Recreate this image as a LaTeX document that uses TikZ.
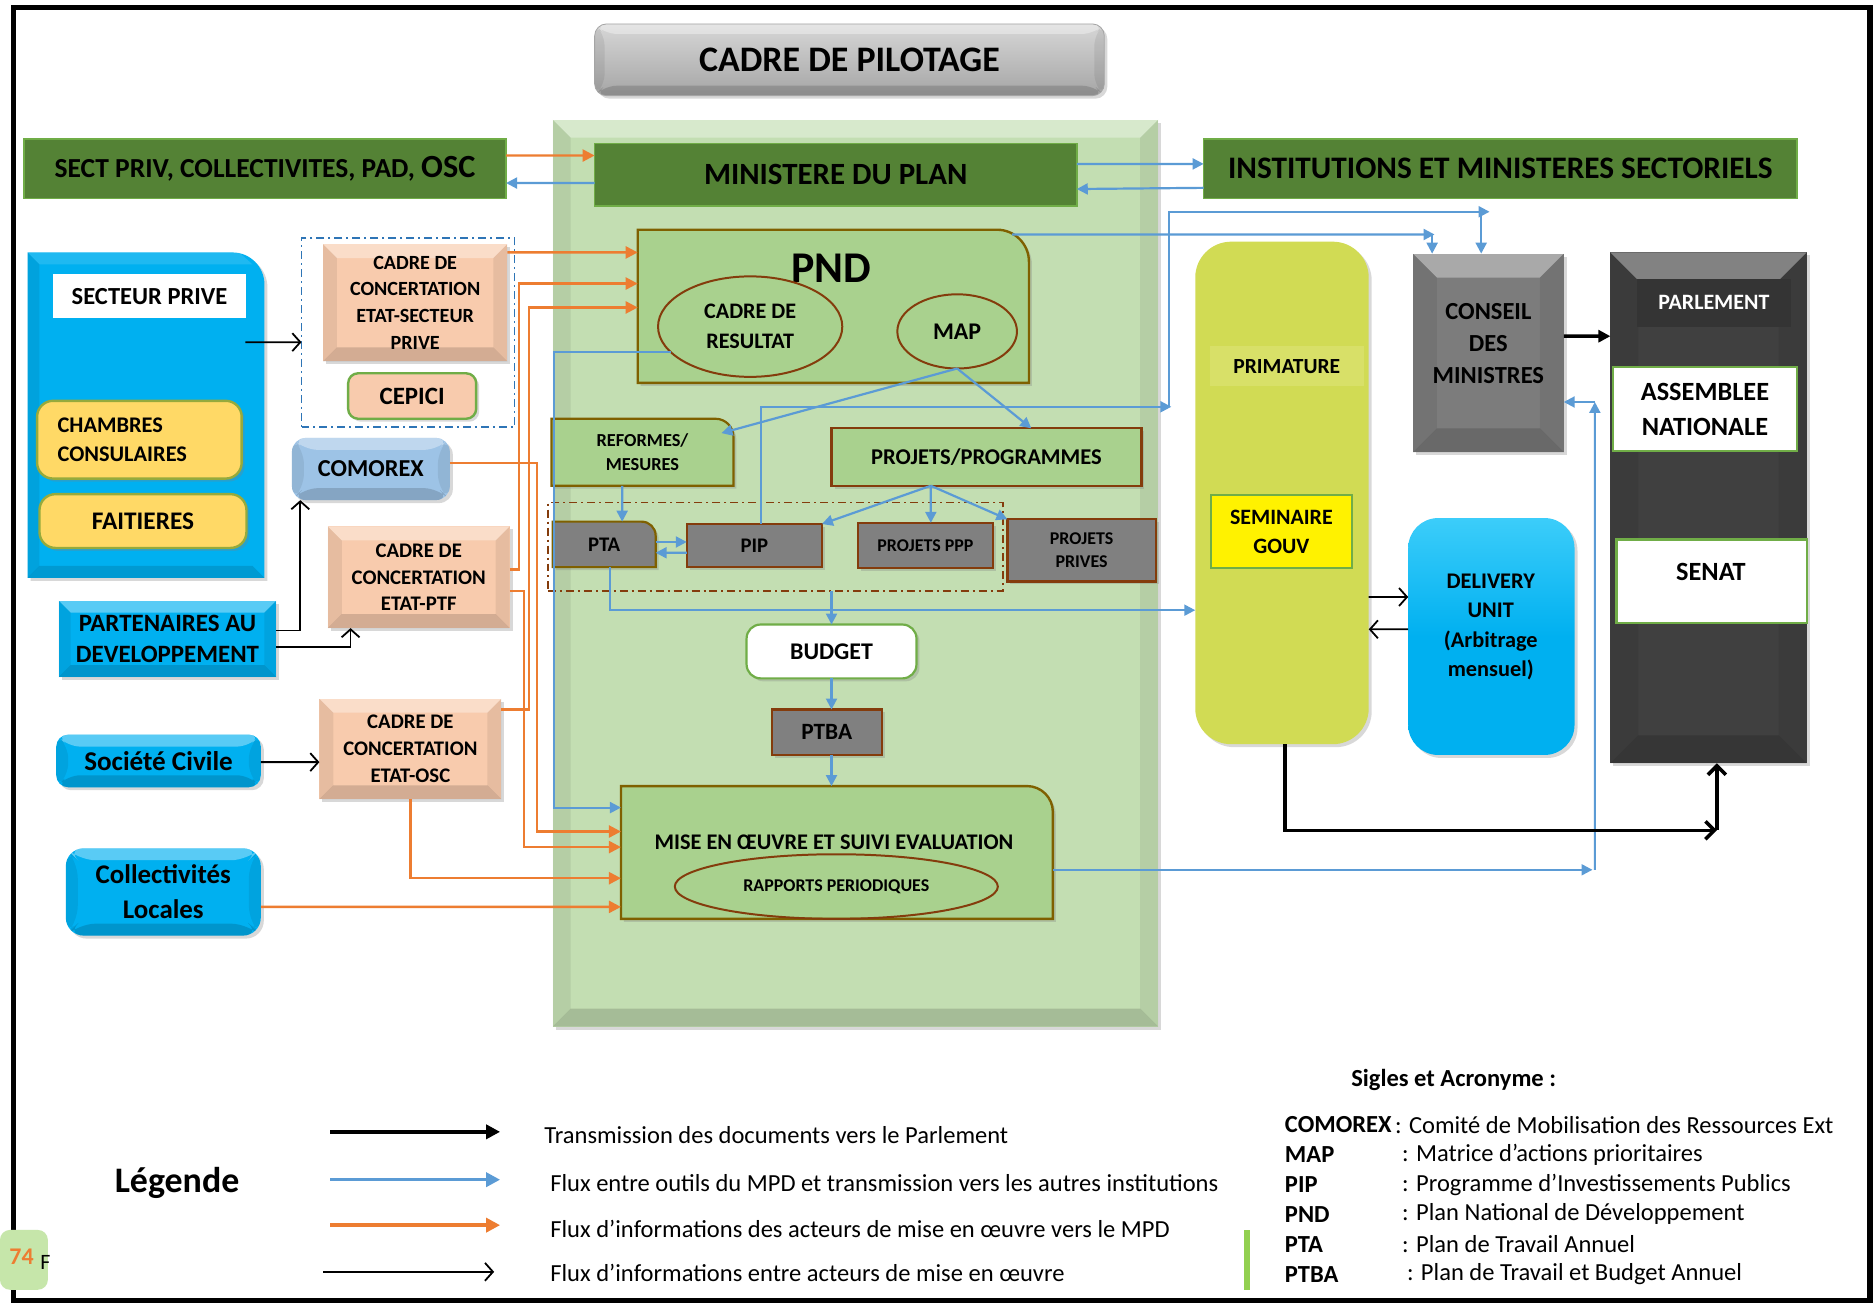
\documentclass[tikz,border=0pt]{standalone}
\usepackage{fontspec}
\setmainfont{Carlito}
\usetikzlibrary{arrows.meta,shapes.geometric,shadows}
\definecolor{dgreen}{RGB}{84,130,53}
\definecolor{grnb}{RGB}{112,173,71}
\definecolor{lgreen}{RGB}{169,209,142}
\definecolor{panel}{RGB}{195,222,178}
\definecolor{olive}{RGB}{127,96,0}
\definecolor{brownb}{RGB}{132,60,12}
\definecolor{oline}{RGB}{237,125,49}
\definecolor{blueL}{RGB}{91,155,213}
\definecolor{dblue}{RGB}{46,117,182}
\definecolor{peach}{RGB}{248,203,173}
\definecolor{cyanb}{RGB}{0,176,240}
\definecolor{cyanT}{RGB}{60,205,250}
\definecolor{yel}{RGB}{255,217,102}
\definecolor{yelB}{RGB}{150,170,60}
\definecolor{primc}{RGB}{209,219,84}
\definecolor{primL}{RGB}{216,224,104}
\definecolor{dgray}{RGB}{64,64,64}
\definecolor{dgrayD}{RGB}{52,52,52}
\definecolor{mgray}{RGB}{128,128,128}
\definecolor{cgray}{RGB}{124,124,124}
\definecolor{lblue}{RGB}{157,195,230}
\definecolor{limec}{RGB}{146,208,80}
\definecolor{pilT}{RGB}{215,215,215}
\definecolor{pilB}{RGB}{165,165,165}
\definecolor{pgGreen}{RGB}{198,230,170}
\newcommand\myfs[2]{\fontsize{#1}{#2}\selectfont}
\tikzset{
  every node/.style={inner sep=0pt,outer sep=0pt,align=center,font=\bfseries},
  bx/.style args={#1/#2/#3/#4}{at={({(#1+#3)/2},{(#2+#4)/2})},
     minimum width={(#3-#1)*0.6pt}, minimum height={(#4-#2)*0.6pt}},
  bev/.style={path picture={
    \path (path picture bounding box.north west) coordinate (bvA)
          (path picture bounding box.north east) coordinate (bvB)
          (path picture bounding box.south east) coordinate (bvC)
          (path picture bounding box.south west) coordinate (bvD);
    \fill[white,opacity=0.35] (bvA) -- (bvB) -- ([shift={(-#1,-#1)}]bvB) -- ([shift={(#1,-#1)}]bvA) -- cycle;
    \fill[black,opacity=0.15] (bvD) -- (bvC) -- ([shift={(-#1,#1)}]bvC) -- ([shift={(#1,#1)}]bvD) -- cycle;
    \fill[black,opacity=0.07] (bvA) -- (bvD) -- ([shift={(#1,#1)}]bvD) -- ([shift={(#1,-#1)}]bvA) -- cycle;
    \fill[black,opacity=0.07] (bvB) -- (bvC) -- ([shift={(-#1,#1)}]bvC) -- ([shift={(-#1,-#1)}]bvB) -- cycle;
  }},
  bev/.default=6pt,
  shd/.style={drop shadow={shadow xshift=1.5pt,shadow yshift=-1.5pt,opacity=0.3}},
  peachbox/.style={fill=peach,bev=7pt,shd},
  cyanbox/.style={fill=cyanb,bev=6pt,shd},
  graybox/.style={fill=mgray,draw=brownb,line width=1.1pt,shd},
  wbox/.style={fill=white,draw=grnb,line width=1.1pt},
  ell/.style={ellipse,draw=brownb,line width=1pt},
  dashdot/.style={line width=0.9pt,dash pattern=on 4pt off 2pt on 1pt off 2pt},
  oarr/.style={draw=oline,line width=1.2pt,-{Triangle[length=6pt,width=6pt]}},
  barr/.style={draw=blueL,line width=1.1pt,-{Triangle[length=5.5pt,width=5.5pt]}},
  karr/.style={draw=black,line width=1.8pt,-{Triangle[length=6pt,width=6pt]}},
  kbarb/.style={draw=black,line width=1.8pt,-{Straight Barb[length=4.5pt,width=9pt]}},
  kthin/.style={draw=black,line width=0.9pt,-{Straight Barb[length=4pt,width=9pt]}},
  legtxt/.style={anchor=west,font=\mdseries\myfs{12.3}{14}},
}
\begin{document}
\begin{tikzpicture}[x=0.6pt,y=-0.6pt]
\useasboundingbox (0,0) rectangle (1568,1090);
\fill[white] (0,0) rectangle (1568,1090);

% ---- MPD panel
\node[bx=462/100/968/858, fill=panel, bev=9pt, shd] (mpd) {};

% ---- top boxes
\node[bx=497/20/923/80, rounded corners=6pt, top color=pilT, bottom color=pilB, draw=pilB, bev=5pt, shd, font=\bfseries\myfs{18}{20}] (pil) {CADRE DE PILOTAGE};
\node[bx=497/120/900/172, fill=dgreen, draw=grnb, line width=0.8pt, font=\bfseries\myfs{15.5}{18}] (min) {MINISTERE DU PLAN};
\node[bx=20/116/423/166, fill=dgreen, draw=grnb, line width=0.8pt] (sect) {{\myfs{13.8}{16}SECT PRIV, COLLECTIVITES, PAD, }{\myfs{16.2}{18}OSC}};
\node[bx=1006/116/1502/166, fill=dgreen, draw=grnb, line width=0.8pt, font=\bfseries\myfs{15.7}{18}] (inst) {INSTITUTIONS ET MINISTERES SECTORIELS};

% ---- Secteur prive
\path[fill=cyanb, shd] (23,483) -- (23,211) [rounded corners=16pt] -- (221,211) [sharp corners] -- (221,483) -- cycle;
\fill[white,opacity=0.12] (23,211) -- (200,211) -- (211,221) -- (33,221) -- cycle;
\fill[black,opacity=0.08] (23,211) -- (33,221) -- (33,473) -- (23,483) -- cycle;
\fill[black,opacity=0.12] (23,483) -- (33,473) -- (211,473) -- (221,483) -- cycle;
\node[bx=23/211/221/483] (sp) {};
\node[bx=44/229/206/266, fill=white, font=\bfseries\myfs{12.3}{14}] (spl) {SECTEUR PRIVE};
\node[bx=31/335/202/400, fill=yel, draw=yelB, line width=1.2pt, rounded corners=8pt, shd, text width=82pt, align=left, font=\bfseries\myfs{11.2}{14.7}] (cham) {CHAMBRES\\CONSULAIRES};
\node[bx=33/413/206/458, fill=yel, draw=yelB, line width=1.2pt, rounded corners=8pt, shd, font=\bfseries\myfs{12.7}{14}] (fait) {FAITIERES};

% ---- left column
\node[bx=252/199/430/357, draw=dblue, dashdot] (dbox) {};
\node[bx=270/204/424/302, peachbox, font=\bfseries\myfs{10.1}{13.4}] (cSP) {CADRE DE\\CONCERTATION\\ETAT-SECTEUR\\PRIVE};
\node[bx=291/312/398/350, fill=peach, draw=grnb, line width=1.2pt, rounded corners=5pt, shd, font=\bfseries\myfs{12.5}{14}] (cep) {CEPICI};
\node[bx=244/366/376/418, fill=lblue, bev=6pt, rounded corners=7pt, shd, font=\bfseries\myfs{12.2}{14}] (como) {COMOREX};
\node[bx=49/502/231/566, cyanbox, font=\bfseries\myfs{12.5}{15.9}] (part) {PARTENAIRES AU\\DEVELOPPEMENT};
\node[bx=274/440/426/525, peachbox, font=\bfseries\myfs{10.4}{13.4}] (cPTF) {CADRE DE\\CONCERTATION\\ETAT-PTF};
\node[bx=47/614/218/658, cyanbox, rounded corners=6pt, font=\bfseries\myfs{13.6}{15}] (soc) {Société Civile};
\node[bx=267/584/419/668, peachbox, font=\bfseries\myfs{10.4}{13.4}] (cOSC) {CADRE DE\\CONCERTATION\\ETAT-OSC};
\node[bx=55/709/218/782, cyanbox, rounded corners=9pt, font=\bfseries\myfs{13.5}{17.5}] (coll) {Collectivités\\Locales};

% ---- PND
\path[fill=lgreen, draw=olive, line width=1.2pt, shd] (533,320) -- (533,192) [rounded corners=16pt] -- (860,192) [sharp corners] -- (860,320) -- cycle;
\node[bx=533/192/860/320] (pnd) {};
\node[font=\bfseries\myfs{22}{24}] (pndl) at (695,224) {PND};
\node[ell, minimum width=92.4pt, minimum height=50.4pt, font=\bfseries\myfs{11.1}{15}] (cr) at (627,273) {CADRE DE\\RESULTAT};
\node[ell, minimum width=60pt, minimum height=37.2pt, font=\bfseries\myfs{12}{14}] (map) at (800,277) {MAP};

\path[fill=lgreen, draw=olive, line width=1.1pt, shd] (461,406) -- (461,350) [rounded corners=9pt] -- (613,350) [sharp corners] -- (613,406) -- cycle;
\node[bx=461/350/613/406, font=\bfseries\myfs{9.2}{12}] (ref) {REFORMES/\\MESURES};
\node[bx=695/358/954/406, fill=lgreen, draw=brownb, line width=1.1pt, shd, font=\bfseries\myfs{11.3}{13}] (pp) {PROJETS/PROGRAMMES};

\node[bx=458/420/838/494, draw=brownb, dashdot] (pbox) {};
\path[fill=mgray, draw=olive, line width=1.1pt, shd] (462,474) -- (462,436) [rounded corners=7pt] -- (548,436) [sharp corners] -- (548,474) -- cycle;
\node[bx=462/436/548/474, font=\bfseries\myfs{10.4}{12}] (pta) {PTA};
\node[bx=574/438/687/474, graybox, font=\bfseries\myfs{10.4}{12}] (pip) {PIP};
\node[bx=717/437/830/475, graybox, font=\bfseries\myfs{9}{11}] (ppp) {PROJETS PPP};
\node[bx=842/434/966/486, graybox, font=\bfseries\myfs{9}{11.7}] (prv) {PROJETS\\PRIVES};

\node[bx=624/522/766/567, wbox, rounded corners=7pt, shd, font=\bfseries\myfs{12}{14}] (bud) {BUDGET};
\node[bx=645/593/737/631, graybox, font=\bfseries\myfs{11.7}{13}] (ptba) {PTBA};

\path[fill=lgreen, draw=olive, line width=1.2pt, shd] (519,768) -- (519,657) [rounded corners=13pt] -- (880,657) [sharp corners] -- (880,768) -- cycle;
\node[bx=519/657/880/768] (mise) {};
\node[font=\bfseries\myfs{11.2}{13}] (misel) at (697,704) {MISE EN ŒUVRE ET SUIVI EVALUATION};
\node[ell, minimum width=162pt, minimum height=32.4pt, font=\bfseries\myfs{9}{11}] (rap) at (699,741) {RAPPORTS PERIODIQUES};

% ---- right side
\node[bx=999/202/1144/622, fill=primc, rounded corners=18pt, shd] (prim) {};
\node[bx=1011/289/1140/323, fill=primL, font=\bfseries\myfs{10.8}{13}] (priml) {PRIMATURE};
\node[bx=1012/414/1130/475, fill=yellow, draw=grnb, line width=1.1pt, font=\bfseries\myfs{11}{14.4}] (sem) {SEMINAIRE\\GOUV};

\node[bx=1181/212/1307/378, fill=cgray, bev=12pt, shd] (cons) {};
\node[font=\bfseries\myfs{12.3}{15.9}] (consl) at (1244,287) {CONSEIL\\DES\\MINISTRES};

\node[bx=1346/211/1510/638, fill=dgray, bev=14pt, shd] (parl) {};
\node[bx=1368/233/1497/273, fill=dgrayD, text=white, font=\bfseries\myfs{11}{13}] (parll) {PARLEMENT};
\node[bx=1348/307/1502/377, wbox, font=\bfseries\myfs{13.2}{17.5}] (an) {ASSEMBLEE\\NATIONALE};
\node[bx=1351/451/1510/521, wbox] (sen) {};
\node[font=\bfseries\myfs{13.2}{15}] (senl) at (1430,478) {SENAT};

\node[bx=1177/433/1316/631, top color=cyanT, bottom color=cyanb, middle color=cyanb, rounded corners=15pt, shd] (du) {};
\node[font=\bfseries\myfs{11.2}{14.8}] (dul) at (1246,524) {DELIVERY\\UNIT\\(Arbitrage\\mensuel)};

% ---- orange connectors
\draw[oarr] ([yshift=6.6pt]sect.east) -- ([yshift=9.6pt]min.west);
\draw[oarr] ([yshift=25.2pt]cSP.east) -- ([yshift=27pt]pnd.west);
\draw[oarr] ([yshift=3.9pt]cPTF.east) -- ++(4.8pt,0) |- ([yshift=11.4pt]pnd.west);
\draw[oarr] ([yshift=19.8pt]cOSC.east) -- ++(13.8pt,0) |- ([yshift=-0.6pt]pnd.west);
\draw[oarr] ([yshift=3pt]como.east) -- ++(43.8pt,0) |- ([yshift=10.5pt]mise.west);
\draw[oarr] ([yshift=-6.9pt]cPTF.east) -- ++(7.2pt,0) |- ([yshift=2.7pt]mise.west);
\draw[oarr] (cOSC.south) |- ([yshift=-12.9pt]mise.west);
\draw[oarr] ([yshift=-7.5pt]coll.east) -- ([yshift=-27.3pt]mise.west);

% ---- blue connectors
\draw[barr] ([yshift=-4.2pt]min.west) -- ([yshift=-7.2pt]sect.east);
\draw[barr] ([yshift=5.4pt]min.east) -- ([yshift=2.4pt]inst.west);
\draw[barr] ([yshift=-9.6pt]inst.west) -- ([yshift=-7.2pt]min.east);
\draw[barr] (cr.198) -| ([xshift=-33.6pt,yshift=22.5pt]mise.west) -- ([yshift=22.5pt]mise.west);
\draw[barr] ([xshift=-8.4pt,yshift=-2.4pt]pnd.north east) -- ([xshift=-27pt,yshift=9.6pt]cons.north);
\draw[barr] ([xshift=-28.2pt,yshift=9.6pt]cons.north) -- ([xshift=-28.2pt]cons.north);
\draw[barr] ([xshift=3.3pt]pip.north) |- ([xshift=-12pt,yshift=43.2pt]prim.west);
\draw[barr] ([xshift=-13.2pt,yshift=43.2pt]prim.west) |- ([xshift=0.6pt,yshift=21pt]cons.north);
\draw[barr] ([xshift=-3.6pt,yshift=21pt]cons.north) -- ([xshift=-3.6pt]cons.north);
\draw[barr] (map.south) -- ([xshift=-6pt,yshift=-7.2pt]ref.north east);
\draw[barr] (map.south) -- ([xshift=22.5pt]pp.north);
\draw[barr] ([xshift=-10.2pt]ref.south) -- ([xshift=9pt]pta.north);
\draw[barr] ([yshift=1.2pt]pta.east) -- ([yshift=1.8pt]pip.west);
\draw[barr] ([yshift=-3.6pt]pip.west) -- ([yshift=-4.2pt]pta.east);
\draw[barr] ([xshift=-27.9pt]pp.south) -- (pip.north east);
\draw[barr] ([xshift=-27.9pt]pp.south) -- ([xshift=2.7pt]ppp.north);
\draw[barr] ([xshift=-27.9pt]pp.south) -- (prv.north west);
\draw[barr] ([xshift=3pt]pta.south) |- ([yshift=-58.8pt]prim.west);
\draw[barr] (pbox.south -| bud.north) -- (bud.north);
\draw[barr] (bud.south) -- (bud.south |- ptba.north);
\draw[barr] (bud.south |- ptba.south) -- (bud.south |- mise.north);
\coordinate (j1) at ([xshift=271.8pt,yshift=-8.7pt]mise.east);
\coordinate (j2) at ([xshift=15.6pt,yshift=-24.6pt]cons.east);
\draw[barr] ([yshift=-8.7pt]mise.east) -- ([xshift=-1.2pt]j1);
\draw[barr] (j1) -- (j2);
\draw[barr] (j2) -- ([yshift=-24.6pt]cons.east);

% ---- black connectors
\draw[karr] ([yshift=8.4pt]cons.east) -- ([yshift=86.1pt]parl.west);
\coordinate (j3) at ([xshift=4.2pt,yshift=-33.6pt]parl.south);
\draw[kbarb] ([xshift=1.5pt]prim.south) |- (j3);
\draw[kbarb] (j3) -- ([xshift=4.2pt]parl.south);
\draw[kthin] ([yshift=-52.2pt]prim.east) -- ([yshift=19.8pt]du.west);
\draw[kthin] ([yshift=3.6pt]du.west) -- ([yshift=-68.4pt]prim.east);
\draw[kthin] ([xshift=-9.6pt,yshift=36.6pt]sp.east) -- ([yshift=-4.8pt]dbox.west);
\draw[kthin] ([yshift=4.2pt]part.east) -| ([xshift=-35.4pt]como.south);
\draw[kthin] ([yshift=-4.2pt]part.east) -| ([xshift=-34.2pt]cPTF.south);
\draw[kthin] ([yshift=-0.6pt]soc.east) -- ([yshift=-6.6pt]cOSC.west);

% ---- legend
\node[font=\bfseries\myfs{18}{20}] (leg) at (148,989) {Légende};
\coordinate (la1) at (276,946); \coordinate (lb1) at (418,946);
\coordinate (la2) at (276,986); \coordinate (lb2) at (418,986);
\coordinate (la3) at (276,1024); \coordinate (lb3) at (418,1024);
\coordinate (la4) at (270,1063); \coordinate (lb4) at (413,1063);
\draw[black,line width=2pt,-{Triangle[length=7pt,width=7pt]}] (la1) -- (lb1);
\draw[blueL,line width=1.8pt,-{Triangle[length=7pt,width=7pt]}] (la2) -- (lb2);
\draw[oline,line width=1.8pt,-{Triangle[length=7pt,width=7pt]}] (la3) -- (lb3);
\draw[kthin] (la4) -- (lb4);
\node[legtxt] (t1) at (455,949) {Transmission des documents vers le Parlement};
\node[legtxt] (t2) at (460,989) {Flux entre outils du MPD et transmission vers les autres institutions};
\node[legtxt] (t3) at (460,1027) {Flux d’informations des acteurs de mise en œuvre vers le MPD};
\node[legtxt] (t4) at (460,1064) {Flux d’informations entre acteurs de mise en œuvre};

\node[font=\bfseries\myfs{12.3}{14}] (sig) at (1215,903) {Sigles et Acronyme :};
\node[legtxt,font=\bfseries\myfs{12.3}{14}] (s1a) at (1074,940) {COMOREX};
\node[legtxt] (s1b) at (1166,940) {: Comité de Mobilisation des Ressources Ext};
\node[legtxt,font=\bfseries\myfs{12.3}{14}] (s2a) at (1074,965) {MAP};
\node[legtxt] (s2b) at (1172,965) {: Matrice d’actions prioritaires};
\node[legtxt,font=\bfseries\myfs{12.3}{14}] (s3a) at (1074,990) {PIP};
\node[legtxt] (s3b) at (1172,990) {: Programme d’Investissements Publics};
\node[legtxt,font=\bfseries\myfs{12.3}{14}] (s4a) at (1074,1015) {PND};
\node[legtxt] (s4b) at (1172,1015) {: Plan National de Développement};
\node[legtxt,font=\bfseries\myfs{12.3}{14}] (s5a) at (1074,1040) {PTA};
\node[legtxt] (s5b) at (1172,1040) {: Plan de Travail Annuel};
\node[legtxt,font=\bfseries\myfs{12.3}{14}] (s6a) at (1074,1065) {PTBA};
\node[legtxt] (s6b) at (1176,1065) {: Plan de Travail et Budget Annuel};
\fill[limec] (1040,1028) rectangle (1045,1078);

% ---- frame
\draw[line width=2.6pt] (11,6) rectangle (1563,1087);

% ---- page mark
\node[bx=0/1028/40/1078, fill=pgGreen, rounded corners=5pt] (pg) {};
\node[text=oline, font=\bfseries\myfs{12}{13}] (pgn) at (18,1050) {74};
\node[font=\mdseries\myfs{11}{12}] (pgf) at (38,1055) {F};
\end{tikzpicture}
\end{document}
